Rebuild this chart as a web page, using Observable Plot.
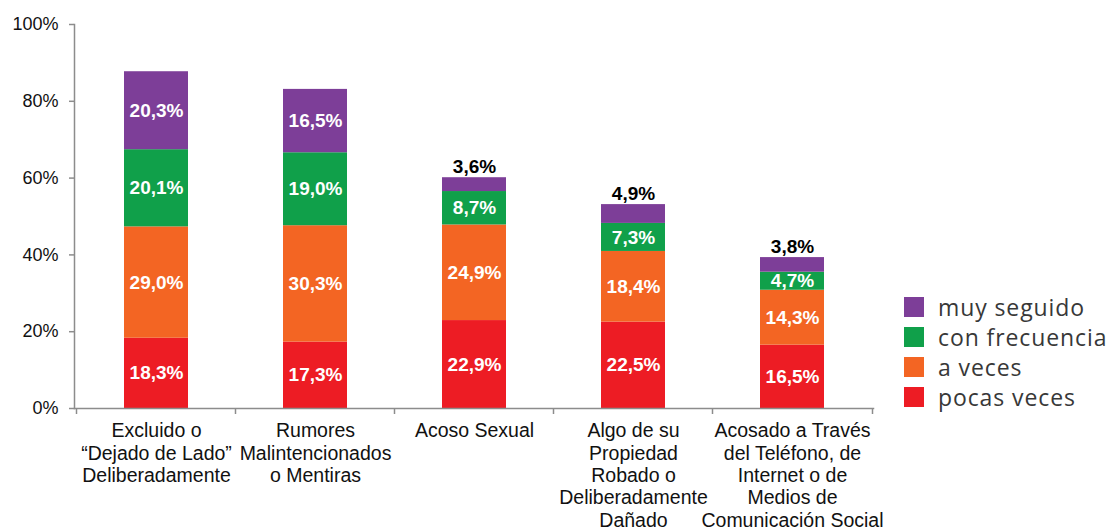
<!DOCTYPE html>
<html>
<head>
<meta charset="utf-8">
<script src="https://cdn.jsdelivr.net/npm/d3@7"></script>
<script src="https://cdn.jsdelivr.net/npm/@observablehq/plot@0.6"></script>
<style>
  html, body { margin: 0; padding: 0; background: #fff; }
  #wrap { position: relative; width: 1116px; height: 530px; overflow: hidden; }
  #legend { position: absolute; left: 904px; top: 292px; font-family: "Open Sans", sans-serif; font-size: 23px; letter-spacing: 0.9px; color: #383838; }
  .row { display: flex; align-items: center; height: 30px; white-space: nowrap; }
  .sw { width: 20px; height: 20px; margin-right: 14px; flex: none; }
</style>
</head>
<body>
<div id="wrap"></div>
<script>
const categories = [
  "Excluido o\n“Dejado de Lado”\nDeliberadamente",
  "Rumores\nMalintencionados\no Mentiras",
  "Acoso Sexual",
  "Algo de su\nPropiedad\nRobado o\nDeliberadamente\nDañado",
  "Acosado a Través\ndel Teléfono, de\nInternet o de\nMedios de\nComunicación Social"
];
const series = ["pocas veces", "a veces", "con frecuencia", "muy seguido"];
const colors = ["#ED1C24", "#F36523", "#10A04A", "#7D3E98"];
const pocasVeces = [18.3, 17.3, 22.9, 22.5, 16.5];
const aVeces = [29.0, 30.3, 24.9, 18.4, 14.3];
const conFrecuencia = [20.1, 19.0, 8.7, 7.3, 4.7];
const muySeguido = [20.3, 16.5, 3.6, 4.9, 3.8];
const yTicks = [0, 20, 40, 60, 80, 100];

const valuesBySeries = [pocasVeces, aVeces, conFrecuencia, muySeguido];
const data = [];
series.forEach((s, si) => {
  categories.forEach((c, ci) => {
    data.push({cat: c, series: s, value: valuesBySeries[si][ci]});
  });
});
const fmt = v => v.toFixed(1).replace(".", ",") + "%";
const outside = d => d.series === "muy seguido" && d.value < 10;

const axisColor = "#8c8c8c";
const step = 160;

const chart = Plot.plot({
  width: 1116,
  height: 530,
  marginLeft: 74,
  marginRight: 243,
  marginTop: 24,
  marginBottom: 122,
  style: {fontFamily: "'Liberation Sans', Arial, sans-serif", background: "#fff"},
  x: {domain: categories, paddingInner: 0.6, paddingOuter: 0.3, label: null},
  y: {domain: [0, 100], label: null},
  color: {domain: series, range: colors},
  marks: [
    Plot.barY(data, {x: "cat", y: "value", fill: "series", z: "series", order: series}),
    Plot.text(data, Plot.stackY({
      x: "cat", y: "value", z: "series", order: series,
      text: d => outside(d) ? null : fmt(d.value),
      fill: "white", fontWeight: "bold", fontSize: 19
    })),
    Plot.text(data, Plot.stackY2({
      x: "cat", y: "value", z: "series", order: series,
      text: d => outside(d) ? fmt(d.value) : null,
      fill: "black", fontWeight: "bold", fontSize: 19, lineAnchor: "bottom", dy: -5
    })),
    Plot.frame({anchor: "left", stroke: axisColor, strokeWidth: 1.5}),
    Plot.frame({anchor: "bottom", stroke: axisColor, strokeWidth: 1.5}),
    Plot.axisY({ticks: yTicks, tickSize: 5, tickPadding: 11, tickFormat: d => d + "%", fontSize: 18, stroke: axisColor, strokeWidth: 1.5, fill: "#111", label: null}),
    Plot.ruleX(categories, {x: d => d, dx: -step / 2, insetTop: 378, dy: 6, stroke: axisColor, strokeWidth: 1.5}),
    Plot.ruleX([categories[categories.length - 1]], {x: d => d, dx: step / 2, insetTop: 378, dy: 6, stroke: axisColor, strokeWidth: 1.5}),
    Plot.axisX({tickSize: 0, tickPadding: 13, fontSize: 19.5, lineHeight: 1.145, fill: "#111", label: null})
  ]
});
const wrap = document.getElementById("wrap");
wrap.appendChild(chart);

const legend = document.createElement("div");
legend.id = "legend";
for (let i = series.length - 1; i >= 0; i--) {
  const row = document.createElement("div");
  row.className = "row";
  const sw = document.createElement("div");
  sw.className = "sw";
  sw.style.background = colors[i];
  const t = document.createElement("span");
  t.textContent = series[i];
  row.appendChild(sw);
  row.appendChild(t);
  legend.appendChild(row);
}
wrap.appendChild(legend);
</script>
</body>
</html>
